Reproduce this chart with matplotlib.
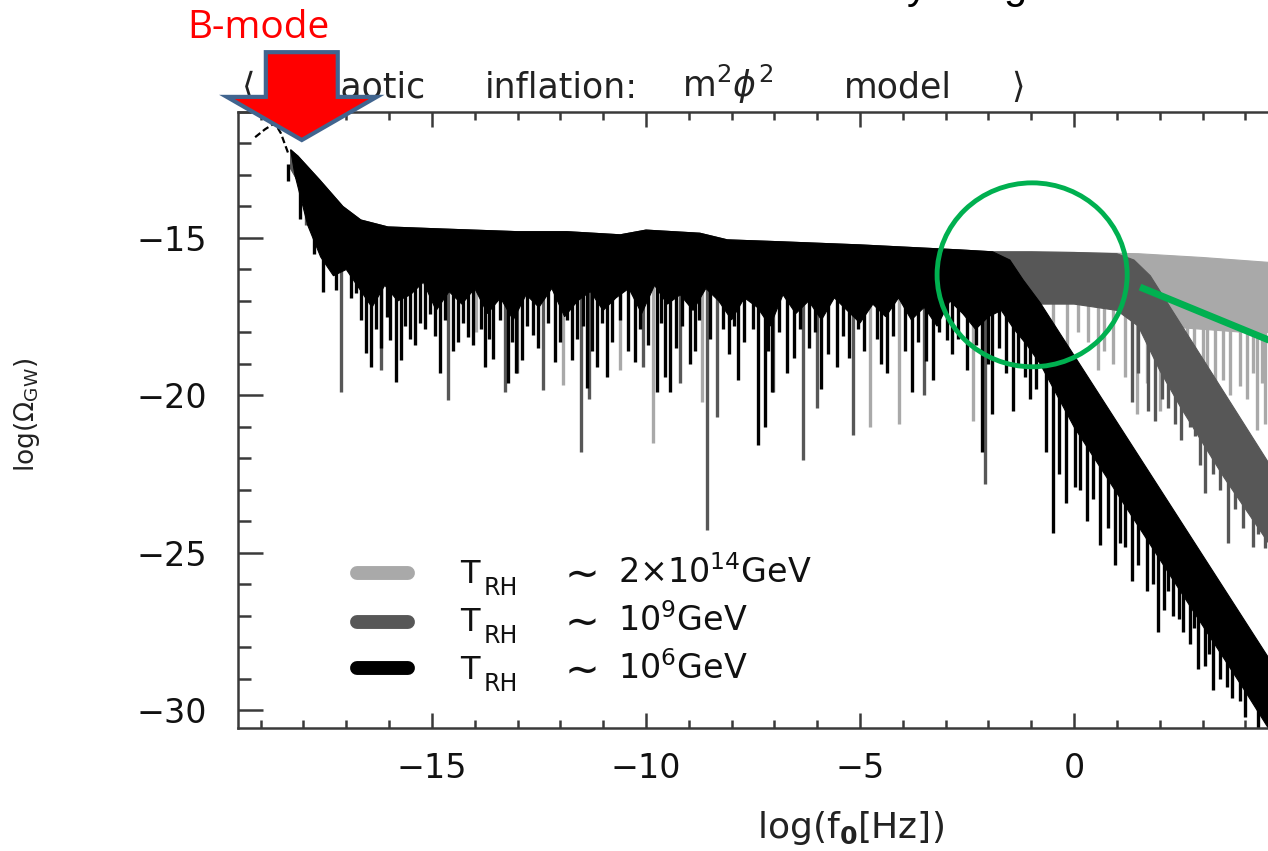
import numpy as np
import matplotlib
matplotlib.use("Agg")
import matplotlib.pyplot as plt
from matplotlib.patches import FancyArrow, Ellipse
from matplotlib.ticker import MultipleLocator

plt.rcParams['font.family'] = ['DejaVu Sans']
plt.rcParams['mathtext.fontset'] = 'dejavusans'

# ---------------- data ----------------
peak_x = [-19.13, -18.9, -18.67, -18.53, -18.36]
peak_y = [-11.8, -11.55, -11.35, -11.67, -12.3]

flat_x = [-18.3, -18.13, -17.62, -17.08, -16.66, -16.03, -14.86, -13.0,
          -11.85, -10.6, -10.0, -8.74, -8.1, -6.87, -5.0, -2.66, -1.9]
flat_y = [-12.2, -12.4, -13.16, -14.0, -14.43, -14.65, -14.71, -14.8,
          -14.8, -14.9, -14.75, -14.85, -15.06, -15.12, -15.22, -15.38, -15.44]

lg_tail_x = [-1.0, 0.0, 1.5, 3.0, 4.6]
lg_tail_y = [-15.44, -15.46, -15.5, -15.62, -15.78]
dg_tail_x = [-1.0, 0.0, 1.0, 1.4, 1.78, 4.6]
dg_tail_y = [-15.44, -15.46, -15.5, -15.7, -16.2, -22.26]
bk_tail_x = [-1.5, -1.19, -0.79, 4.6]
bk_tail_y = [-15.7, -16.33, -17.06, -28.45]

lg_bot_x = [-18.3, -17.0, -15.0, -3.0, -2.0, -1.0, 0.0, 1.0, 1.5, 2.0, 3.0, 4.0, 4.6]
lg_bot_y = [-12.8, -15.9, -16.0, -16.0, -16.8, -17.0, -17.0, -17.1, -17.7, -17.8, -17.9, -18.0, -18.0]
dg_bot_x = [-18.3, -17.0, -15.0, -3.0, -2.0, -1.0, 0.0, 1.0, 1.5, 2.0, 2.5, 3.0, 3.5, 4.0, 4.6]
dg_bot_y = [-12.8, -15.9, -16.0, -16.0, -16.8, -17.1, -17.1, -17.3, -17.8, -19.2, -20.4,
            -21.5, -22.6, -23.6, -24.8]
bk_bot_x = [-18.2, -17.9, -17.6, -17.3, -17.0, -16.7, -16.4, -16.1, -15.8, -15.5, -15.2, -14.9,
            -14.6, -14.3, -14.0, -13.7, -13.4, -13.1, -12.8, -12.5, -12.2, -11.9, -11.6, -11.3,
            -11.0, -10.7, -10.4, -10.1, -9.8, -9.5, -9.2, -8.9, -8.6, -8.3, -8.0, -7.7, -7.4,
            -7.1, -6.8, -6.5, -6.2, -5.9, -5.6, -5.3, -5.0, -4.7, -4.4, -4.1, -3.8, -3.5, -3.2,
            -2.9, -2.6, -2.3, -2.0, -1.7, -1.4, -1.1, -0.79, 0.0, 1.0, 2.0, 3.0, 4.0, 4.6]
bk_bot_y = [-13.0, -14.6, -15.6, -16.2, -16.0, -16.6, -17.2, -16.5, -17.0, -16.8, -16.4, -17.3,
            -16.7, -17.1, -16.6, -17.4, -16.9, -17.6, -16.8, -17.2, -16.6, -17.5, -17.0, -16.7,
            -17.3, -16.9, -16.6, -17.4, -16.5, -17.1, -16.8, -17.3, -16.6, -17.0, -17.6, -16.9,
            -17.2, -17.8, -16.8, -17.4, -17.0, -17.6, -16.9, -17.3, -17.7, -17.1, -17.5, -16.9,
            -17.6, -17.2, -17.8, -17.0, -17.4, -17.9, -17.5, -17.3, -17.9, -18.4, -19.0, -21.0,
            -23.1, -25.2, -27.3, -29.4, -30.7]

bk_spike_x = [-18.36, -18.08, -17.76, -17.55, -17.24, -16.89, -16.78, -16.54, -16.43, -16.19,
              -15.98, -15.84, -15.72, -15.51, -15.28, -15.05, -14.81, -14.39, -14.16, -13.76,
              -13.57, -13.22, -13.04, -12.9, -12.64, -12.13, -11.73, -11.38, -11.15, -10.91,
              -10.26, -9.74, -9.56, -9.44, -8.97, -7.85, -7.38, -7.22, -7.06, -6.71, -5.91,
              -5.54, -4.37, -3.79, -3.29, -2.97, -2.15, -1.92, -1.43, -1.03,
              -16.65, -16.3, -16.05, -15.62, -15.4, -15.17, -14.93, -14.7, -14.5, -14.27,
              -14.05, -13.86, -13.66, -13.4, -13.13, -12.77, -12.52, -12.3, -12.02, -11.85,
              -11.6, -11.47, -11.27, -11.03, -10.8, -10.6, -10.43, -10.14, -9.95, -9.65,
              -9.3, -9.15, -8.85, -8.75, -8.5, -8.2, -8.05, -7.95, -7.7, -7.5, -7.15, -6.9,
              -6.55, -6.4, -6.2, -6.05, -5.75, -5.4, -5.25, -5.05, -4.9, -4.6, -4.5, -4.22,
              -3.95, -3.65, -3.45, -3.15, -2.85, -2.7, -2.5, -2.3, -2.0, -1.75, -1.6, -1.3,
              -1.15, -0.9,
              -0.49, 0.02, 0.61, 1.07, 1.7, 1.96, 2.31, 2.55, 2.9, 3.25, 3.57, 3.88,
              -0.65, -0.35, -0.2, 0.15, 0.3, 0.45, 0.8, 0.95, 1.2, 1.35, 1.5, 1.85, 2.1, 2.2,
              2.45, 2.7, 2.8, 3.05, 3.15, 3.4, 3.7, 4.0, 4.3]
bk_spike_y = [-13.2, -14.4, -15.5, -16.7, -16.65, -16.9, -16.75, -18.65, -19.1, -18.5,
              -18.24, -19.57, -18.87, -18.2, -17.7, -17.4, -19.3, -18.3, -18.14, -19.1,
              -18.85, -19.6, -19.3, -18.87, -18.08, -18.94, -18.87, -19.77, -19.1, -19.4,
              -18.94, -19.9, -19.4, -19.9, -19.0, -19.5, -21.57, -21.0, -19.9, -19.3, -19.8,
              -19.1, -19.3, -19.9, -19.5, -18.24, -21.8, -20.6, -20.5, -20.1,
              -17.6, -17.9, -17.5, -17.8, -18.4, -17.9, -18.1, -17.6, -18.6, -17.7,
              -18.4, -17.9, -18.2, -17.6, -18.3, -17.8, -18.5, -17.7, -18.3, -17.6,
              -18.2, -17.8, -18.6, -17.7, -18.3, -17.6, -18.6, -17.9, -18.4, -17.7,
              -18.5, -17.8, -18.6, -17.6, -18.2, -17.9, -18.7, -17.8, -18.3, -17.9, -18.6, -18.0,
              -18.8, -17.9, -18.5, -18.0, -18.7, -18.1, -18.8, -17.9, -18.6, -18.2, -19.0, -18.1,
              -18.6, -18.3, -18.9, -18.0, -18.7, -18.2, -19.2, -18.4, -19.0, -18.5, -19.3, -19.0,
              -19.4, -19.8,
              -24.37, -22.9, -24.75, -24.7, -26.2, -27.5, -27.0, -27.5, -28.7, -29.35, -29.25, -29.7,
              -21.8, -22.5, -23.4, -23.0, -24.0, -23.3, -24.2, -25.4, -24.8, -25.9, -25.4, -26.0,
              -26.8, -26.2, -27.1, -27.9, -27.4, -28.6, -28.2, -29.0, -29.6, -30.2, -30.6]
dg_spike_x = [-17.94, -17.13, -14.63, -13.01, -12.41, -11.52, -11.33, -10.07, -8.57, -8.34,
              -7.03, -6.33, -5.16, -2.08, 1.35, 1.73, 2.06, 2.36, 2.83, 3.06, 3.25, 3.6, 4.18, 4.46,
              -16.2, -13.3, -9.2, -6.0, -3.5, 1.5, 1.9, 2.2, 2.5, 2.7, 2.95, 3.4, 3.75, 3.95, 4.3]
dg_spike_y = [-14.6, -19.9, -20.14, -19.3, -19.83, -21.8, -20.1, -19.1, -24.27, -20.7,
              -19.9, -22.05, -21.25, -22.8, -20.2, -20.5, -20.1, -20.9, -21.3, -23.1, -22.5,
              -24.7, -24.8, -24.85,
              -19.2, -19.9, -19.6, -20.4, -20.0, -19.3, -20.8, -20.4, -21.4, -21.0, -22.2,
              -23.0, -23.6, -24.2, -24.4]
lg_spike_x = [-13.97, -11.94, -10.6, -9.84, -8.69, -4.77, -4.09, -2.36, -0.49, -0.16, 0.33,
              0.56, 0.91, 1.47, 2.0, 2.64, 3.0, 3.1, 3.48, 3.64, 3.88, 4.18, 4.28, 4.46,
              1.7, 2.25, 2.45, 2.8, 3.3, 4.05, 4.4, 0.1, 0.7, 1.2]
lg_spike_y = [-18.0, -19.67, -19.2, -21.5, -20.2, -21.0, -20.9, -20.8, -17.83, -18.5, -18.3,
              -19.2, -19.0, -20.6, -20.5, -18.65, -19.7, -19.1, -19.5, -20.0, -19.7, -19.3,
              -21.1, -20.9,
              -19.6, -19.2, -19.9, -19.0, -20.3, -20.1, -19.6, -18.0, -18.6, -19.4]

legend_values = [r"2$\times$10$^{14}$GeV", r"10$^{9}$GeV", r"10$^{6}$GeV"]
colors = ['#a9a9a9', '#575757', '#000000']

x_ticks = [-15, -10, -5, 0]
y_ticks = [-30, -25, -20, -15]

title_words = [r"$\langle$", "Chaotic", "inflation:", r"m$^2\phi^2$", "model", r"$\rangle$"]

# ---------------- figure ----------------
W, H = 1268, 851
fig = plt.figure(figsize=(W / 100, H / 100), dpi=100)
ax = fig.add_axes([238 / W, 1 - 728 / H, 1 - 238 / W, (728 - 112) / H])
ax.set_xlim(-19.53, 4.53)
ax.set_ylim(-30.56, -11.0)
FT = fig.transFigure


def fx(px):
    return px / W


def fy(py):
    return 1 - py / H


series = [
    (flat_x + lg_tail_x, flat_y + lg_tail_y, lg_bot_x, lg_bot_y, lg_spike_x, lg_spike_y),
    (flat_x + dg_tail_x, flat_y + dg_tail_y, dg_bot_x, dg_bot_y, dg_spike_x, dg_spike_y),
    (flat_x + bk_tail_x, flat_y + bk_tail_y, bk_bot_x, bk_bot_y, bk_spike_x, bk_spike_y),
]
for (tx, ty, bx, by, sx, sy), c in zip(series, colors):
    ax.fill(np.r_[tx, bx[::-1]], np.r_[ty, by[::-1]], color=c, lw=0.8, ec=c, zorder=2)
    sx = np.asarray(sx)
    stop = np.interp(sx, tx, ty) - 0.45
    ax.vlines(sx, sy, stop, colors=c, lw=2.4, zorder=2)

ax.plot(peak_x, peak_y, color='black', lw=1.6, dashes=(3, 1.5), zorder=2, clip_on=False)

# legend drawn inside the axes
leg_y = [-25.63, -27.19, -28.65]
T_base = [583, 631, 679]
for yy, c, val, tb in zip(leg_y, colors, legend_values, T_base):
    ax.plot([-16.76, -15.56], [yy, yy], color=c, lw=10, solid_capstyle='round', zorder=5)
    ax.text(fx(460), fy(tb), "T", fontsize=23, va='baseline', ha='left',
            color='#111111', transform=FT, zorder=5)
    ax.text(fx(484), fy(tb + 12), "RH", fontsize=17, va='baseline', ha='left',
            color='#111111', transform=FT, zorder=5)
    ax.text(fx(576), fy(tb - 10), r"$\sim$", fontsize=30, va='center', ha='center',
            color='#111111', transform=FT, zorder=5)
    ax.text(fx(618), fy(tb), val, fontsize=24, va='baseline', ha='left',
            color='#111111', transform=FT, zorder=5)

# axes styling
for s in ['left', 'bottom', 'top']:
    ax.spines[s].set_linewidth(1.8)
    ax.spines[s].set_color('#3a3a3a')
ax.spines['right'].set_visible(False)
ax.set_xticks(x_ticks)
ax.set_yticks(y_ticks)
ax.xaxis.set_minor_locator(MultipleLocator(1))
ax.yaxis.set_minor_locator(MultipleLocator(1))
ax.tick_params(axis='x', which='major', direction='in', length=10.8, width=1.8, top=True,
               labelsize=24, pad=17, color='#3a3a3a', labelcolor='#111111')
ax.tick_params(axis='x', which='minor', direction='in', length=5.8, width=1.8, top=True,
               color='#3a3a3a')
ax.tick_params(axis='y', which='major', direction='in', length=18, width=1.8, right=False,
               labelsize=24, pad=22, color='#3a3a3a', labelcolor='#111111')
ax.tick_params(axis='y', which='minor', direction='in', length=9.4, width=1.8, right=False,
               color='#3a3a3a')

# title words, centred on their places in the reference (drawn below the arrow)
title_centre = [247, 360, 561, 728, 898, 1017]
for w, px in zip(title_words, title_centre):
    ax.text(fx(px), fy(97), w, fontsize=25, ha='center', va='baseline', color='#222222',
            transform=FT, zorder=4, clip_on=False)

fig.text(fx(850), fy(828), r"log(f$_{\mathbf{0}}$[Hz])", fontsize=26,
         ha='center', va='center', color='#222222')
fig.text(fx(27), fy(415), r"log($\Omega_{\rm GW}$)", fontsize=19, rotation=90,
         ha='center', va='center', color='#222222')

# slide annotations
fig.text(fx(258), fy(28), "B-mode", color='red', fontsize=28, family='Open Sans',
         ha='center', va='center')
fig.text(fx(917), fy(-2), "y", color='black', fontsize=30, family='Liberation Sans',
         ha='center', va='baseline')
fig.text(fx(1015), fy(-2), "g", color='black', fontsize=30, family='Liberation Sans',
         ha='center', va='baseline')

arrow = FancyArrow(-18.04, -9.10, 0, -2.79, width=1.68, head_width=3.5, head_length=1.37,
                   length_includes_head=True, fc='red', ec='#41658F', lw=3,
                   clip_on=False, zorder=10)
ax.add_patch(arrow)

circ = Ellipse((-0.98, -16.17), width=4.44, height=5.84, fill=False, ec='#00B050', lw=3.5,
               zorder=10, clip_on=False)
ax.add_patch(circ)
ax.plot([1.54, 5.28], [-16.56, -18.65], color='#00B050', lw=5, zorder=10, clip_on=False,
        solid_capstyle='butt')

fig.savefig("out.png", dpi=100)
